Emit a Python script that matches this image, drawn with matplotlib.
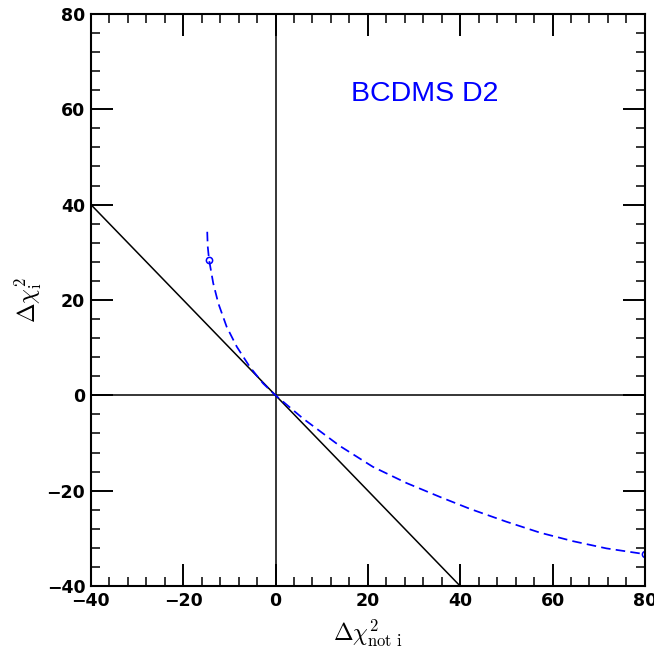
import matplotlib
matplotlib.use("Agg")
import matplotlib.pyplot as plt
from matplotlib.ticker import MultipleLocator

plt.rcParams['mathtext.fontset'] = 'cm'

# Data
curve_x = [-14.8, -14.7, -14.4, -13.5, -12.4, -10.6, -8.4, -5.6, -2.7, 0.0,
           6.0, 13.9, 21.1, 28.4, 35.6, 42.1, 50.0, 57.3, 64.5, 71.7, 80.0]
curve_y = [34.3, 31.3, 28.4, 23.5, 19.3, 14.4, 10.2, 6.0, 2.5, 0.0,
           -4.9, -10.6, -15.0, -18.4, -21.3, -23.8, -26.5, -28.8, -30.6, -32.1, -33.3]
marker_x = [-14.4, 80.0]
marker_y = [28.4, -33.3]
diag_x = [-40, 40]
diag_y = [40, -40]
label_text = "BCDMS D2"

fig = plt.figure(figsize=(6.54, 6.60), dpi=100)
ax = fig.add_axes([0.139, 0.112, 0.847, 0.867])

ax.axhline(0, color='black', lw=1.1)
ax.axvline(0, color='black', lw=1.1)
ax.plot(diag_x, diag_y, color='black', lw=1.1)
ax.plot(curve_x, curve_y, color='blue', lw=1.25, ls=(0, (5.5, 3)))
ax.plot(marker_x, marker_y, ls='none', marker='o', ms=4.5, mfc='none', mec='blue', mew=1.1)

ax.text(32.2, 63.2, label_text, color='blue', fontsize=20.5, family='Liberation Sans',
        ha='center', va='center')

ax.set_xlim(-40, 80)
ax.set_ylim(-40, 80)
ax.xaxis.set_major_locator(MultipleLocator(20))
ax.yaxis.set_major_locator(MultipleLocator(20))
ax.xaxis.set_minor_locator(MultipleLocator(4))
ax.yaxis.set_minor_locator(MultipleLocator(4))
ax.tick_params(which='both', direction='in', top=True, right=True)
ax.tick_params(which='major', length=16, width=1.4, labelsize=12.5, pad=4)
ax.tick_params(which='minor', length=6.5, width=1.1)
for lab in ax.get_xticklabels() + ax.get_yticklabels():
    lab.set_fontweight('bold')
for s in ax.spines.values():
    s.set_linewidth(1.5)

ax.set_xlabel(r'$\Delta\chi^2_{\rm not\ i}$', fontsize=17, labelpad=6)
ax.set_ylabel(r'$\Delta\chi^2_{\rm i}$', fontsize=17, labelpad=2)

fig.savefig('out.png', dpi=100)
